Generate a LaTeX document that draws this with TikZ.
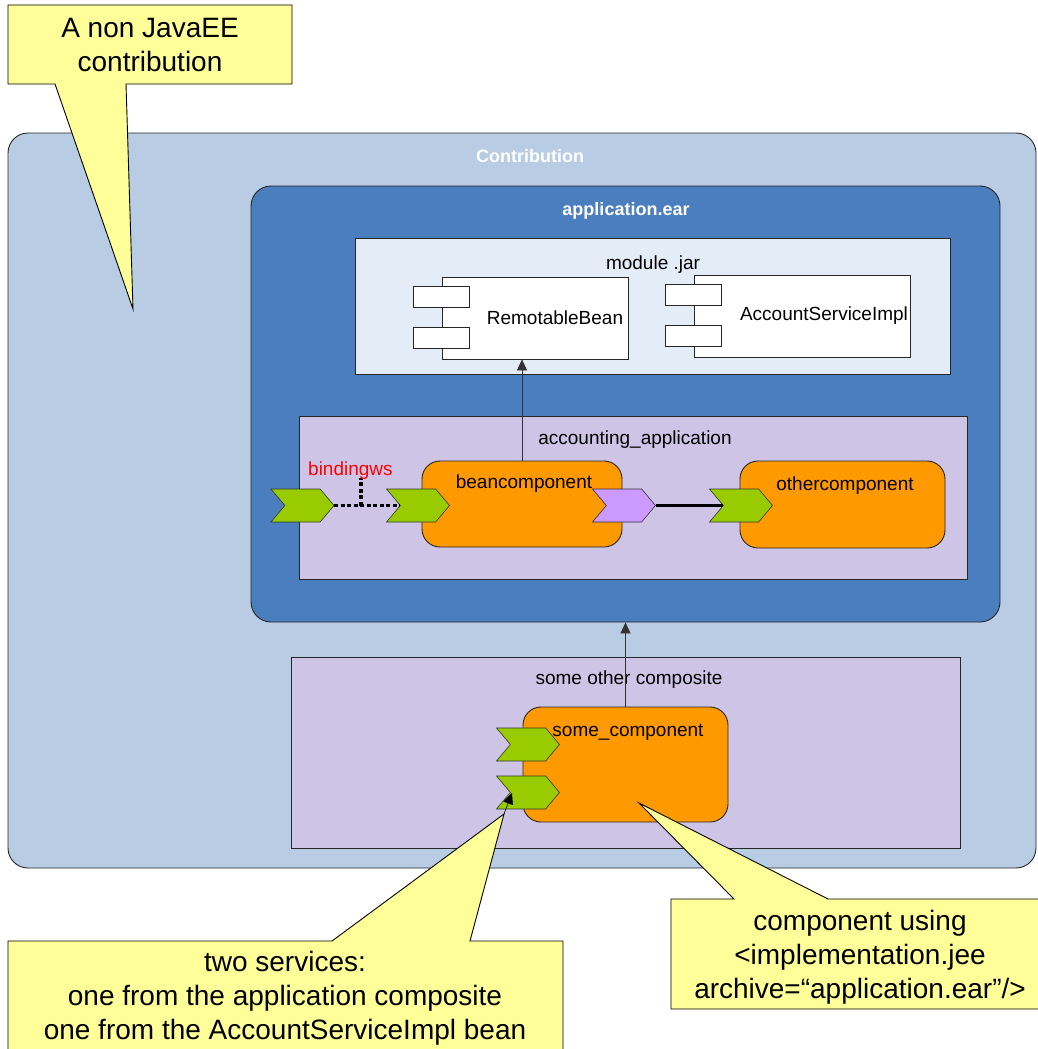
\documentclass[tikz,border=0pt]{standalone}
\usepackage{fontspec}
\setmainfont{Liberation Sans}
\usetikzlibrary{positioning,shapes.symbols,arrows.meta}
\definecolor{contribblue}{RGB}{184,204,228}
\definecolor{earblue}{RGB}{74,126,190}
\definecolor{jarwhite}{RGB}{228,236,247}
\definecolor{complilac}{RGB}{206,196,230}
\definecolor{comporange}{RGB}{255,153,0}
\definecolor{svcgreen}{RGB}{153,204,0}
\definecolor{reflilac}{RGB}{204,153,255}
\definecolor{noteyellow}{RGB}{255,255,153}

\begin{document}
\begin{tikzpicture}[x=1pt,y=-1pt,
  box/.style={draw=black!85, line width=0.9pt, inner sep=0pt},
  comp/.style={box, rounded corners=18pt, fill=comporange},
  bean/.style={draw=black!85, line width=0.7pt, fill=white, inner sep=0pt},
  chev/.style={signal, signal to=east, signal from=west, signal pointer angle=100,
    draw=black!80, line width=0.6pt, minimum width=63pt, minimum height=33pt, inner sep=0pt},
  ttl/.style={anchor=base, font=\fontsize{19}{23}\selectfont},
  bttl/.style={anchor=base, text=white, font=\bfseries\fontsize{18}{22}\selectfont},
  note/.style={fill=noteyellow, draw=black, line width=0.9pt, line join=miter},
  notetext/.style={align=center, font=\fontsize{28}{34}\selectfont},
  up/.style={-{Triangle[length=11pt,width=10pt]}, line width=0.7pt, draw=black!80, fill=black}]
  \useasboundingbox (0,0) rectangle (1037,1049);

  \node[box, rounded corners=20pt, fill=contribblue, minimum width=1028pt, minimum height=735pt] (contrib) at (522,500.5) {};
  \node[bttl] (contribttl) at (530,162) {Contribution};

  \node[box, rounded corners=20pt, fill=earblue, minimum width=749pt, minimum height=436pt] (appear) at (625.5,404) {};
  \node[bttl] (appearttl) at (626,215) {application.ear};

  \node[box, fill=jarwhite, minimum width=595pt, minimum height=136pt] (jar) at (652.5,306) {};
  \node[ttl] (jarttl) at (653,269) {module .jar};

  \foreach \n/\cx/\cy/\w/\dx/\t in {rbean/535/318/186/20/RemotableBean, acct/802/316/216/22/AccountServiceImpl}{
    \node[bean, minimum width=\w pt, minimum height=82pt] (\n) at (\cx,\cy) {};
    \node[bean, minimum width=56pt, minimum height=21pt] (\n a) at ([yshift=21pt]\n.west) {};
    \node[bean, minimum width=56pt, minimum height=21pt] (\n b) at ([yshift=-20pt]\n.west) {};
    \node[font=\fontsize{19}{23}\selectfont] (\n txt) at ([xshift=\dx pt]\n.center) {\t};
  }

  \node[box, fill=complilac, minimum width=668pt, minimum height=163pt] (acctapp) at (633,497.5) {};
  \node[ttl] (acctappttl) at (635,444) {accounting\_application};

  \node[comp, minimum width=200pt, minimum height=86pt] (beancomp) at (522,504) {};
  \node[ttl] (beancompttl) at (524,488) {beancomponent};
  \node[comp, minimum width=205pt, minimum height=87pt] (othercomp) at (842.5,504.5) {};
  \node[ttl] (othercompttl) at (845,490) {othercomponent};

  \node[chev, fill=svcgreen] (appsvc) at (302.5,505.5) {};
  \node[chev, fill=svcgreen] (beansvc) at (418,505.5) {};
  \node[chev, fill=reflilac] (beanref) at (624,505.5) {};
  \node[chev, fill=svcgreen] (othersvc) at (741,505.5) {};

  \coordinate (bindpt) at (361,505.5);
  \coordinate (bindtop) at (361,478);
  \draw[line width=3.5pt, dash pattern=on 4pt off 2.5pt] (appsvc.east) -- (beansvc.west);
  \draw[line width=3.5pt, dash pattern=on 4pt off 2.5pt] (bindpt) -- (bindtop);
  \node[anchor=base west, inner sep=0pt, text=red, font=\fontsize{19}{22}\selectfont] (bindttl) at (308,475) {bindingws};
  \draw[line width=2.2pt] (beanref.east) -- (othersvc.west);

  \draw[up] (beancomp.north) -- (beancomp.north |- rbean.south);

  \node[box, fill=complilac, minimum width=669pt, minimum height=191pt] (othercomposite) at (625.5,752.5) {};
  \node[ttl] (othercompositettl) at (629,684) {some other composite};

  \node[comp, minimum width=205pt, minimum height=115pt] (somecomp) at (625.5,764.5) {};
  \node[ttl] (somecompttl) at (628,736) {some\_component};
  \node[chev, fill=svcgreen] (somesvca) at (528,744.5) {};
  \node[chev, fill=svcgreen] (somesvcb) at (528,792.5) {};

  \draw[up] (somecomp.north) -- (somecomp.north |- appear.south);

  \coordinate (tipA) at (133,309);
  \coordinate (tipB) at (504,814);
  \coordinate (tipC) at (639,803);
  \coordinate (tipBend) at (512,793);

  \draw[note] (8,5) -- (292,5) -- (292,84) -- (126,84) -- (tipA) -- (55,84) -- (8,84) -- cycle;
  \node[notetext] (noteA) at (150,45.5) {A non JavaEE\\contribution};

  \draw[note] (8,941) -- (332,941) -- (tipB) -- (470,941) -- (563,941) -- (563,1060) -- (8,1060) -- cycle;
  \node[notetext] (noteB) at (285,998.5) {two services:\\one from the application composite\\one from the AccountServiceImpl bean};
  \draw[-{Triangle[length=11pt,width=10pt]}, line width=0.6pt] (tipB) -- (tipBend);

  \draw[note] (671,899) -- (734,899) -- (tipC) -- (828,899) -- (1045,899) -- (1045,1009) -- (671,1009) -- cycle;
  \node[notetext] (noteC) at (860,957) {component using\\<implementation.jee\\archive=“application.ear”/>};
\end{tikzpicture}
\end{document}
